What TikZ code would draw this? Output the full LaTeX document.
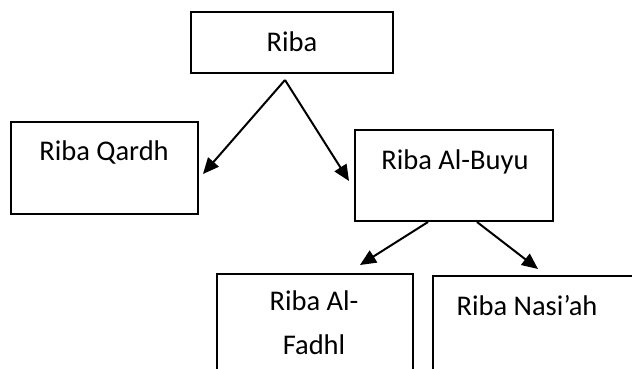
\documentclass[tikz,border=0pt]{standalone}
\usepackage{fontspec}
\setmainfont{Carlito}
\usetikzlibrary{arrows.meta}
\begin{document}
\begin{tikzpicture}[x=1pt,y=-1pt,
  box/.style={draw,line width=2pt},
  lbl/.style={font=\fontsize{28.5}{44}\selectfont,anchor=base,inner sep=0pt,align=center},
  arr/.style={line width=2pt,-{Triangle[length=16pt,width=14pt]}}]
\useasboundingbox (0,0) rectangle (632,369);
% boxes
\draw[box] (191,12) rectangle (393,73);
\draw[box] (11,122) rectangle (198,214);
\draw[box] (355,130) rectangle (553,221);
\draw[box] (217,369) -- (217,274) -- (413,274) -- (413,369);
\draw[box] (433,369) -- (433,276) -- (634,276);
% labels
\node[lbl] (riba) at (292,52) {Riba};
\node[lbl] (qardh) at (104,160) {Riba Qardh};
\node[lbl] (buyu) at (455,169) {Riba Al-Buyu};
\node[lbl] (fadhl) at (314,354) {Riba Al-\\Fadhl};
\node[lbl] (nasiah) at (527,315) {Riba Nasi’ah};
% connector points
\coordinate (apex) at (285,80);
\coordinate (tq) at (203,174);
\coordinate (tb) at (349,181);
\coordinate (s1) at (428,222);
\coordinate (s2) at (477,222);
\coordinate (tf) at (360,265);
\coordinate (tn) at (538,269);
\draw[arr] (apex) -- (tq);
\draw[arr] (apex) -- (tb);
\draw[arr] (s1) -- (tf);
\draw[arr] (s2) -- (tn);
\end{tikzpicture}
\end{document}
